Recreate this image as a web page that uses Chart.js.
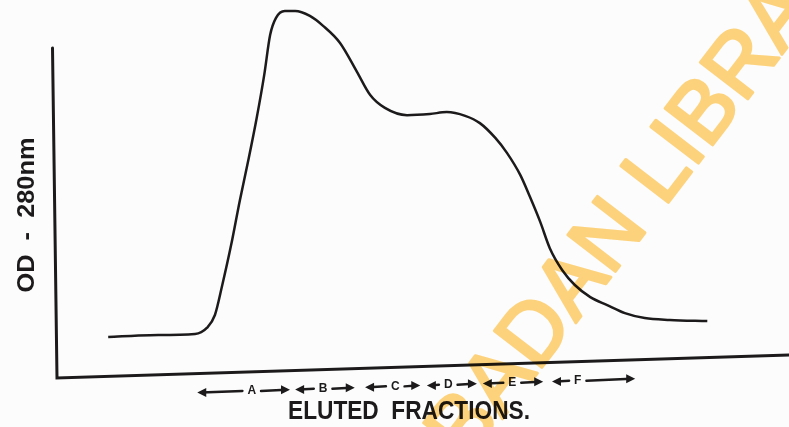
<!DOCTYPE html>
<html lang="en">
<head>
<meta charset="UTF-8">
<title>OD 280nm elution profile</title>
<script src="https://cdn.jsdelivr.net/npm/chart.js@4.4.4/dist/chart.umd.js"></script>
<style>
  html, body { margin: 0; padding: 0; background: #fcfcfc; }
  canvas { display: block; }
</style>
</head>
<body>
<canvas id="myChart" width="789" height="427"></canvas>
<script>
// elution profile (x: position along the fraction axis, y: OD, both 0-100)
const fractionX = [7.5, 13.2, 19.3, 20.9, 22.0, 23.0, 24.2, 25.4, 26.6, 27.7, 28.7, 29.5, 30.3, 31.5, 32.9,
  34.9, 36.7, 39.0, 41.3, 43.1, 45.1, 48.1, 51.2, 53.5, 56.0, 58.0, 60.1, 61.7, 63.5, 64.8,
  66.2, 67.5, 69.2, 70.9, 73.0, 75.3, 77.7, 80.4, 83.8, 88.9];
const odValues = [11.3, 11.8, 12.1, 13.7, 17.1, 25.0, 35.5, 47.4, 58.4, 69.2, 80.3, 90.8, 95.3, 97.1, 97.1,
  95.8, 93.2, 88.7, 81.1, 75.0, 71.6, 69.7, 70.0, 70.5, 69.5, 67.6, 63.7, 59.7, 53.9, 48.2,
  41.6, 34.7, 28.9, 25.0, 21.8, 19.7, 17.6, 16.3, 15.8, 15.5];

// fraction bands marked under the axis
const bandLabels = ['A', 'B', 'C', 'D', 'E', 'F'];
const bandStart = [19.6, 32.9, 42.4, 50.8, 58.4, 67.8];
const bandEnd = [32.2, 41.0, 49.9, 57.6, 66.6, 79.1];
const bandMid = [27.0, 36.7, 46.5, 53.7, 62.4, 71.3];

const yTitle = 'OD  -  280nm';
const xTitle = 'ELUTED  FRACTIONS.';
const stamp = 'UNIVERSITY OF IBADAN LIBRARY';

const ink = '#1c1a1a';

// the scanned x axis is slightly tilted
function axisY(px) {
  return 378 - (px - 57) * 23 / 732;
}

// draw text centred at (cx, cy), squeezed/stretched to a given width
function fitText(ctx, str, cx, cy, font, width, angle) {
  ctx.save();
  ctx.font = font;
  ctx.textAlign = 'center';
  ctx.textBaseline = 'middle';
  const w = ctx.measureText(str).width;
  ctx.translate(cx, cy);
  ctx.rotate(angle || 0);
  ctx.scale(width / w, 1);
  ctx.fillText(str, 0, 0);
  ctx.restore();
}

function arrowHead(ctx, x, y, dir) {
  ctx.beginPath();
  ctx.moveTo(x, y);
  ctx.lineTo(x - dir * 9, y - 4.5);
  ctx.lineTo(x - dir * 9, y + 4.5);
  ctx.closePath();
  ctx.fill();
}

const decor = {
  id: 'decor',
  afterDatasetsDraw(chart) {
    const ctx = chart.ctx;
    const xs = chart.scales.x;
    ctx.save();
    ctx.strokeStyle = ink;
    ctx.fillStyle = ink;
    ctx.lineCap = 'round';

    // axes
    ctx.lineWidth = 3;
    ctx.beginPath();
    ctx.moveTo(52.5, 48);
    ctx.lineTo(57, 378);
    ctx.lineTo(789, axisY(789));
    ctx.stroke();

    // fraction bands
    ctx.lineWidth = 2.5;
    ctx.font = 'bold 12px "Liberation Sans", Arial, sans-serif';
    ctx.textAlign = 'center';
    ctx.textBaseline = 'middle';
    bandLabels.forEach((lab, i) => {
      const x0 = xs.getPixelForValue(bandStart[i]);
      const x1 = xs.getPixelForValue(bandEnd[i]);
      const xm = xs.getPixelForValue(bandMid[i]);
      const half = ctx.measureText(lab).width / 2 + 5;
      const y0 = axisY(x0) + 19, y1 = axisY(x1) + 19, ym = axisY(xm) + 19;
      ctx.beginPath();
      ctx.moveTo(x0 + 4, y0);
      ctx.lineTo(xm - half, ym);
      ctx.moveTo(xm + half, ym);
      ctx.lineTo(x1 - 4, y1);
      ctx.stroke();
      arrowHead(ctx, x0, y0, -1);
      arrowHead(ctx, x1, y1, 1);
      ctx.fillText(lab, xm, ym);
    });

    // titles
    fitText(ctx, xTitle, 409, 412, 'bold 26px "Liberation Sans", Arial, sans-serif', 242);
    fitText(ctx, yTitle, 28, 215, 'bold 23px "Liberation Sans", Arial, sans-serif', 155, -Math.PI / 2);
    ctx.restore();
  },
  afterDraw(chart) {
    // library stamp across the page, drawn off-screen first so it blends evenly
    const ctx = chart.ctx;
    const off = document.createElement('canvas');
    off.width = chart.width;
    off.height = chart.height;
    const o = off.getContext('2d');
    o.fillStyle = '#fdd27c';
    o.strokeStyle = '#fdd27c';
    o.lineWidth = 3;
    o.lineJoin = 'round';
    o.font = '87px "Liberation Sans", Arial, sans-serif';
    o.textBaseline = 'alphabetic';
    const ang = -52.5 * Math.PI / 180;
    const lead = o.measureText('UNIVERSITY OF IBADAN ').width;
    o.translate(664 - lead * Math.cos(ang), 208 - lead * Math.sin(ang));
    o.rotate(ang);
    o.fillText(stamp, 0, 0);
    o.strokeText(stamp, 0, 0);

    ctx.save();
    ctx.globalCompositeOperation = 'multiply';
    ctx.drawImage(off, 0, 0);
    ctx.restore();
  }
};

const ctx = document.getElementById('myChart').getContext('2d');
new Chart(ctx, {
  type: 'line',
  data: {
    datasets: [{
      label: 'OD 280nm',
      data: fractionX.map((x, i) => ({ x: x, y: odValues[i] })),
      borderColor: ink,
      borderWidth: 2.5,
      pointRadius: 0,
      fill: false,
      cubicInterpolationMode: 'monotone'
    }]
  },
  options: {
    responsive: false,
    animation: false,
    layout: { padding: { left: 53, right: 0, top: 0, bottom: 47 } },
    scales: {
      x: { type: 'linear', min: 0, max: 100, display: false },
      y: { type: 'linear', min: 0, max: 100, display: false }
    },
    plugins: {
      legend: { display: false },
      tooltip: { enabled: false }
    }
  },
  plugins: [decor]
});
</script>
</body>
</html>
